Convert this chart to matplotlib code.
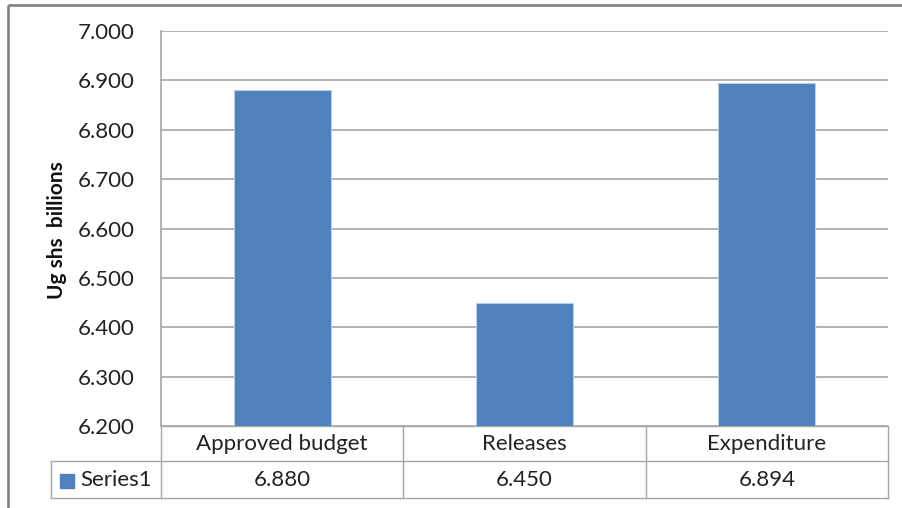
import matplotlib.pyplot as plt
import matplotlib.transforms as mtransforms
from matplotlib.patches import Rectangle

# Budget performance, Ug shs billions
categories = ["Approved budget", "Releases", "Expenditure"]
values = [6.880, 6.450, 6.894]
series_name = "Series1"
yticks = [6.2, 6.3, 6.4, 6.5, 6.6, 6.7, 6.8, 6.9, 7.0]

bar_color = "#4F81BD"
grid_color = "#A6A6A6"
table_color = "#A6A6A6"
text_color = "#222222"
fs = 16

plt.rcParams["font.family"] = ["Lato", "DejaVu Sans"]

W, H = 903, 508
fig = plt.figure(figsize=(W / 100, H / 100), dpi=100)

# outer chart frame (pixel coordinates)
bg = fig.add_axes([0, 0, 1, 1], zorder=-1)
bg.set_xlim(0, W)
bg.set_ylim(H, 0)
bg.axis("off")
bg.add_patch(Rectangle((8, 5), W + 20, H + 20, fill=False, edgecolor="#868686", linewidth=2))

left, top, right, bottom = 161, 31, 888, 426
ax = fig.add_axes([left / W, 1 - bottom / H, (right - left) / W, (bottom - top) / H])

x = list(range(len(categories)))
ax.bar(x, values, width=0.4, bottom=0, color=bar_color, edgecolor="#B9CDE5", linewidth=0.8, zorder=3)
ax.set_xlim(-0.5, len(categories) - 0.5)
ax.set_ylim(yticks[0], yticks[-1])
ax.set_yticks(yticks)
ax.set_yticklabels([f"{t:.3f}" for t in yticks], fontsize=fs, color=text_color)
ax.tick_params(axis="y", length=0, pad=19)
ax.set_xticks([])
ax.yaxis.grid(True, color=grid_color, linewidth=1.2)
ax.set_axisbelow(True)
for side in ["top", "right", "bottom"]:
    ax.spines[side].set_visible(False)
ax.spines["left"].set_color(grid_color)
ax.spines["left"].set_linewidth(1.2)

fig.text(57 / W, 1 - 230 / H, "Ug shs  billions", rotation=90, ha="center", va="center",
         fontsize=15, fontweight="bold", color="#111111")

# data table under the plot: x in data units, y in axes fraction
tr = mtransforms.blended_transform_factory(ax.transData, ax.transAxes)
row1 = -35 / 395
row2 = -72 / 395
x0 = -0.5
x1 = len(categories) - 0.5
xs = -0.5 - 110 / 242.33
line_kw = dict(transform=tr, color=table_color, linewidth=1.0, clip_on=False)
ax.plot([x0, x1], [0, 0], **line_kw)
ax.plot([xs, x1], [row1, row1], **line_kw)
ax.plot([xs, x1], [row2, row2], **line_kw)
ax.plot([xs, xs], [row1, row2], **line_kw)
for i in range(len(categories) + 1):
    ax.plot([i - 0.5, i - 0.5], [0, row2], **line_kw)

for i, (cat, val) in enumerate(zip(categories, values)):
    ax.text(i, row1 / 2, cat, transform=tr, ha="center", va="center", fontsize=fs, color=text_color)
    ax.text(i, (row1 + row2) / 2, f"{val:.3f}", transform=tr, ha="center", va="center",
            fontsize=fs, color=text_color)

# legend key in the table row
ax.add_patch(Rectangle((-0.5 - 101 / 242.33, row2 + 0.025), 14 / 242.33, 14 / 395,
                       transform=tr, color=bar_color, clip_on=False))
ax.text(-0.5 - 81 / 242.33, (row1 + row2) / 2, series_name, transform=tr, ha="left", va="center",
        fontsize=fs, color=text_color)

fig.savefig("out.png", dpi=100)
